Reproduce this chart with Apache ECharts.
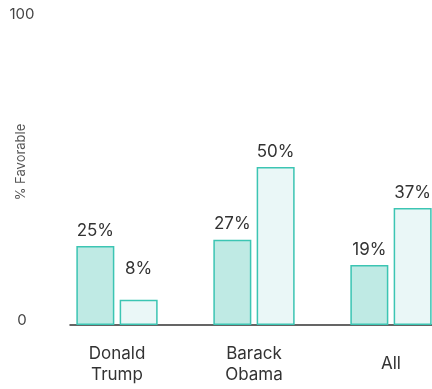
<!DOCTYPE html>
<html>
<head>
<meta charset="utf-8">
<script src="https://cdn.jsdelivr.net/npm/echarts@6/dist/echarts.min.js"></script>
<style>
  html, body { margin: 0; padding: 0; background: #fff; }
  #chart { width: 432px; height: 389px; }
</style>
</head>
<body>
<div id="chart"></div>
<script>
// chart data
const categories = ['Donald\nTrump', 'Barack\nObama', 'All'];
const seriesA = [25, 27, 19];
const seriesB = [8, 50, 37];
const yTicks = [0, 100];

const teal = '#3cc5b3';
const font = 'Inter, "Noto Sans", sans-serif';

// small bars get their label lifted a bit further
const toItems = (values) => values.map((v) => ({
  value: v,
  label: { distance: v < 12 ? 22 : 7 }
}));

const chart = echarts.init(document.getElementById('chart'));

const option = {
  animation: false,
  grid: [
    // bars (runs past the right edge)
    { left: 48.5, width: 411, top: 9, bottom: 64, outerBoundsMode: 'none' },
    // y tick labels
    { left: 70, right: 0, top: 14, bottom: 69, outerBoundsMode: 'none' },
    // baseline
    { left: 70, right: 0, top: 9, bottom: 64, outerBoundsMode: 'none' }
  ],
  xAxis: [
    {
      type: 'category',
      gridIndex: 0,
      data: categories,
      axisLine: { show: false },
      axisTick: { show: false },
      axisLabel: {
        color: '#333',
        fontFamily: font,
        fontSize: 17,
        lineHeight: 21,
        verticalAlign: 'middle',
        margin: 39
      }
    },
    {
      type: 'value',
      gridIndex: 1,
      show: false
    },
    {
      type: 'value',
      gridIndex: 2,
      axisLine: { show: true, lineStyle: { color: '#333', width: 1.5 } },
      axisTick: { show: false },
      axisLabel: { show: false },
      splitLine: { show: false }
    }
  ],
  yAxis: [
    {
      type: 'value',
      gridIndex: 0,
      min: 0,
      max: 100,
      show: false
    },
    {
      type: 'value',
      gridIndex: 1,
      min: yTicks[0],
      max: yTicks[yTicks.length - 1],
      interval: yTicks[1] - yTicks[0],
      axisLine: { show: false },
      axisTick: { show: false },
      splitLine: { show: false },
      axisLabel: {
        color: '#444',
        fontFamily: font,
        fontSize: 15,
        align: 'center',
        margin: 48
      },
      name: '% Favorable',
      nameLocation: 'middle',
      nameGap: 42,
      nameMoveOverlap: false,
      nameTextStyle: { color: '#555', fontFamily: font, fontSize: 13, padding: [0, 0, 0, 10] }
    },
    {
      type: 'value',
      gridIndex: 2,
      show: false
    }
  ],
  series: [
    {
      type: 'bar',
      xAxisIndex: 0,
      yAxisIndex: 0,
      data: toItems(seriesA),
      barWidth: 38,
      barGap: '14%',
      itemStyle: { color: '#bfeae4', borderColor: teal, borderWidth: 1.5 },
      label: {
        show: true,
        position: 'top',
        formatter: '{c}%',
        color: '#333',
        fontFamily: font,
        fontSize: 17
      }
    },
    {
      type: 'bar',
      xAxisIndex: 0,
      yAxisIndex: 0,
      data: toItems(seriesB),
      barWidth: 38,
      barGap: '14%',
      itemStyle: { color: '#eaf7f7', borderColor: teal, borderWidth: 1.5 },
      label: {
        show: true,
        position: 'top',
        formatter: '{c}%',
        color: '#333',
        fontFamily: font,
        fontSize: 17
      }
    }
  ]
};

chart.setOption(option);
</script>
</body>
</html>
